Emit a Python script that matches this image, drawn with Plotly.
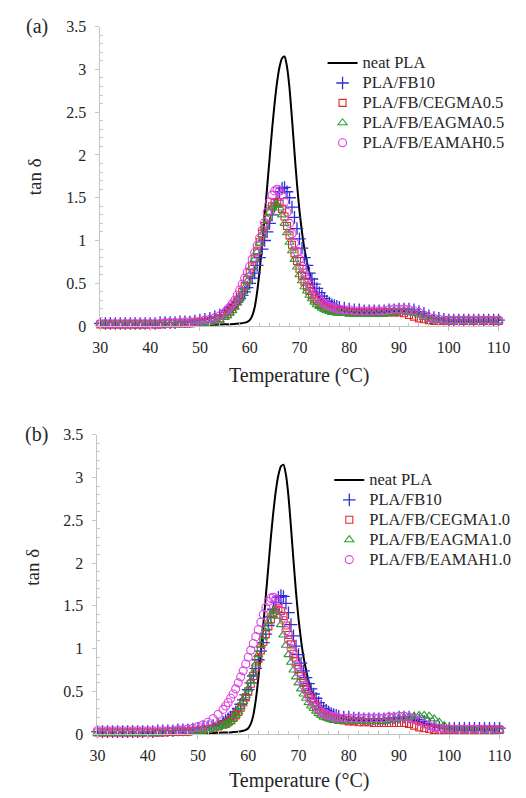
import plotly.graph_objects as go

# ---------------- data ----------------
# temperature grid of the DMA marker series (°C): 1 °C steps on the flanks,
# 0.5 °C steps through the glass-transition peak
temp_low = list(range(30, 56))                       # 30 ... 55
temp_mid = [55.5 + 0.5 * i for i in range(46)]       # 55.5 ... 78
temp_high = list(range(79, 111))                     # 79 ... 110
temp = temp_low + temp_mid + temp_high

# neat PLA, drawn as a continuous line
neat_temp = [30, 35, 40, 45, 50, 53, 55, 56, 57, 58, 59, 59.5, 60, 60.5, 61, 61.5, 62, 62.5,
             63, 63.5, 64, 64.5, 65, 65.5, 66, 66.5, 67, 67.5, 68, 68.5, 69, 69.5, 70, 70.5,
             71, 71.5, 72, 72.5, 73, 74, 75, 76, 77, 78, 79, 80, 82, 85, 88, 90, 92, 94, 96,
             98, 100, 102, 105, 110]
neat_tan = [0.01, 0.01, 0.01, 0.01, 0.01, 0.015, 0.02, 0.02, 0.025, 0.03, 0.04, 0.05, 0.07,
            0.12, 0.22, 0.40, 0.65, 0.95, 1.28, 1.62, 1.96, 2.30, 2.60, 2.85, 3.03, 3.13, 3.15,
            3.03, 2.78, 2.42, 2.03, 1.66, 1.35, 1.10, 0.90, 0.75, 0.62, 0.52, 0.44, 0.34, 0.28,
            0.24, 0.21, 0.19, 0.18, 0.17, 0.16, 0.16, 0.17, 0.18, 0.17, 0.15, 0.11, 0.08, 0.06,
            0.05, 0.05, 0.05]

# ---- panel (a): 0.5 phr compatibilizer ----
fb10_a = (
    [0.03] * 11
    + [0.03, 0.04, 0.04, 0.04, 0.04, 0.05, 0.05, 0.05, 0.06, 0.07]
    + [0.08, 0.09, 0.11, 0.13, 0.16]
    + [0.18, 0.20, 0.22, 0.25, 0.28, 0.32, 0.36, 0.40, 0.45, 0.50,
       0.56, 0.62, 0.71, 0.80, 0.90, 1.00, 1.10, 1.20, 1.30, 1.40,
       1.49, 1.57, 1.61, 1.62, 1.57, 1.50, 1.39, 1.27, 1.14, 1.02,
       0.91, 0.80, 0.71, 0.62, 0.55, 0.49, 0.44, 0.39, 0.35, 0.32,
       0.29, 0.27, 0.25, 0.24, 0.23, 0.22]
    + [0.21, 0.20]
    + [0.19, 0.19, 0.18, 0.18, 0.18, 0.18, 0.18, 0.19, 0.19, 0.20]
    + [0.20, 0.20, 0.19, 0.17, 0.15, 0.12, 0.10, 0.09, 0.08, 0.07]
    + [0.07] * 10
)
cegma_a = (
    [0.02] * 11
    + [0.02, 0.02, 0.03, 0.03, 0.03, 0.03, 0.03, 0.03, 0.04, 0.04]
    + [0.05, 0.06, 0.07, 0.09, 0.12]
    + [0.14, 0.17, 0.20, 0.24, 0.29, 0.34, 0.40, 0.47, 0.54, 0.62,
       0.70, 0.79, 0.88, 0.98, 1.08, 1.17, 1.26, 1.34, 1.40, 1.44,
       1.45, 1.43, 1.37, 1.28, 1.17, 1.06, 0.95, 0.85, 0.76, 0.67,
       0.59, 0.52, 0.46, 0.41, 0.36, 0.32, 0.29, 0.26, 0.24, 0.22,
       0.21, 0.20, 0.19, 0.18, 0.18, 0.17]
    + [0.17, 0.16]
    + [0.16] * 10
    + [0.15, 0.13, 0.11, 0.09, 0.08, 0.07, 0.06, 0.06, 0.06, 0.06]
    + [0.06] * 10
)
eagma_a = (
    [0.02] * 11
    + [0.02, 0.02, 0.02, 0.02, 0.02, 0.02, 0.02, 0.02, 0.02, 0.03]
    + [0.03, 0.04, 0.05, 0.07, 0.10]
    + [0.12, 0.15, 0.18, 0.22, 0.27, 0.32, 0.38, 0.45, 0.52, 0.60,
       0.69, 0.78, 0.87, 0.97, 1.07, 1.17, 1.26, 1.33, 1.39, 1.42,
       1.42, 1.38, 1.30, 1.20, 1.09, 0.98, 0.88, 0.78, 0.69, 0.60,
       0.53, 0.46, 0.41, 0.36, 0.32, 0.28, 0.25, 0.23, 0.21, 0.19,
       0.18, 0.17, 0.16, 0.16, 0.15, 0.15]
    + [0.15, 0.14]
    + [0.14, 0.14, 0.14, 0.14, 0.14, 0.14, 0.14, 0.15, 0.16, 0.17]
    + [0.17, 0.16, 0.15, 0.13, 0.10, 0.08, 0.07, 0.06, 0.06, 0.06]
    + [0.06] * 10
)
eamah_a = (
    [0.03] * 11
    + [0.03, 0.03, 0.04, 0.04, 0.04, 0.04, 0.05, 0.05, 0.05, 0.06]
    + [0.07, 0.08, 0.10, 0.12, 0.16]
    + [0.19, 0.22, 0.26, 0.30, 0.36, 0.42, 0.49, 0.56, 0.63, 0.70,
       0.78, 0.86, 0.94, 1.03, 1.12, 1.21, 1.33, 1.45, 1.53, 1.58,
       1.60, 1.58, 1.53, 1.45, 1.33, 1.20, 1.08, 0.97, 0.87, 0.78,
       0.70, 0.62, 0.55, 0.48, 0.43, 0.38, 0.34, 0.31, 0.28, 0.26,
       0.24, 0.23, 0.22, 0.21, 0.20, 0.20]
    + [0.19, 0.19]
    + [0.18, 0.18, 0.18, 0.18, 0.18, 0.18, 0.18, 0.19, 0.20, 0.20]
    + [0.20, 0.19, 0.18, 0.16, 0.13, 0.10, 0.09, 0.08, 0.07, 0.07]
    + [0.07] * 10
)

# ---- panel (b): 1.0 phr compatibilizer ----
fb10_b = (
    [0.03] * 11
    + [0.03, 0.04, 0.04, 0.04, 0.04, 0.05, 0.05, 0.05, 0.06, 0.07]
    + [0.08, 0.09, 0.10, 0.12, 0.14]
    + [0.16, 0.18, 0.20, 0.23, 0.26, 0.30, 0.35, 0.40, 0.46, 0.52,
       0.60, 0.68, 0.77, 0.87, 0.97, 1.07, 1.17, 1.27, 1.37, 1.46,
       1.54, 1.60, 1.62, 1.61, 1.53, 1.42, 1.28, 1.15, 1.03, 0.93,
       0.83, 0.74, 0.66, 0.59, 0.53, 0.47, 0.42, 0.37, 0.33, 0.30,
       0.28, 0.26, 0.24, 0.23, 0.22, 0.21]
    + [0.20, 0.20]
    + [0.19, 0.19, 0.18, 0.18, 0.18, 0.18, 0.18, 0.19, 0.19, 0.20]
    + [0.20, 0.20, 0.19, 0.17, 0.15, 0.12, 0.10, 0.08, 0.07, 0.07]
    + [0.07] * 10
)
cegma_b = (
    [0.02] * 11
    + [0.02, 0.02, 0.02, 0.03, 0.03, 0.03, 0.03, 0.03, 0.04, 0.04]
    + [0.05, 0.06, 0.07, 0.09, 0.11]
    + [0.12, 0.14, 0.16, 0.19, 0.22, 0.26, 0.31, 0.37, 0.43, 0.50,
       0.59, 0.68, 0.78, 0.88, 0.98, 1.08, 1.17, 1.26, 1.34, 1.40,
       1.45, 1.47, 1.44, 1.38, 1.27, 1.16, 1.05, 0.94, 0.85, 0.76,
       0.68, 0.60, 0.53, 0.47, 0.42, 0.37, 0.33, 0.29, 0.26, 0.24,
       0.22, 0.20, 0.19, 0.18, 0.18, 0.17]
    + [0.16, 0.15]
    + [0.15, 0.14, 0.14, 0.14, 0.13, 0.13, 0.13, 0.13, 0.13, 0.13]
    + [0.13, 0.12, 0.10, 0.08, 0.07, 0.06, 0.05, 0.05, 0.05, 0.05]
    + [0.05] * 10
)
eagma_b = (
    [0.01] * 11
    + [0.01, 0.01, 0.02, 0.02, 0.02, 0.02, 0.02, 0.02, 0.03, 0.03]
    + [0.04, 0.05, 0.06, 0.08, 0.10]
    + [0.11, 0.13, 0.15, 0.18, 0.22, 0.26, 0.32, 0.38, 0.45, 0.53,
       0.62, 0.72, 0.82, 0.93, 1.04, 1.14, 1.24, 1.32, 1.39, 1.44,
       1.44, 1.38, 1.28, 1.16, 1.04, 0.93, 0.84, 0.75, 0.67, 0.60,
       0.53, 0.47, 0.42, 0.37, 0.33, 0.30, 0.27, 0.24, 0.22, 0.20,
       0.19, 0.18, 0.17, 0.16, 0.16, 0.15]
    + [0.15, 0.15]
    + [0.15, 0.15, 0.15, 0.15, 0.15, 0.15, 0.15, 0.16, 0.17, 0.18]
    + [0.19, 0.20, 0.21, 0.22, 0.22, 0.21, 0.18, 0.14, 0.10, 0.07]
    + [0.05, 0.05, 0.05, 0.05, 0.05, 0.04, 0.04, 0.04, 0.04, 0.04]
)
eamah_b = (
    [0.04] * 11
    + [0.04, 0.04, 0.04, 0.04, 0.04, 0.05, 0.05, 0.06, 0.07, 0.09]
    + [0.11, 0.14, 0.18, 0.23, 0.29]
    + [0.33, 0.37, 0.42, 0.47, 0.53, 0.60, 0.67, 0.74, 0.82, 0.90,
       0.98, 1.06, 1.14, 1.22, 1.31, 1.40, 1.48, 1.55, 1.59, 1.60,
       1.58, 1.53, 1.44, 1.33, 1.21, 1.10, 1.00, 0.90, 0.81, 0.72,
       0.64, 0.57, 0.51, 0.45, 0.40, 0.36, 0.32, 0.29, 0.26, 0.24,
       0.23, 0.22, 0.21, 0.20, 0.20, 0.19]
    + [0.19, 0.19]
    + [0.19, 0.19, 0.19, 0.19, 0.19, 0.19, 0.19, 0.20, 0.20, 0.21]
    + [0.21, 0.20, 0.18, 0.15, 0.12, 0.10, 0.08, 0.07, 0.06, 0.06]
    + [0.06] * 10
)

names_a = ["neat PLA", "PLA/FB10", "PLA/FB/CEGMA0.5", "PLA/FB/EAGMA0.5", "PLA/FB/EAMAH0.5"]
names_b = ["neat PLA", "PLA/FB10", "PLA/FB/CEGMA1.0", "PLA/FB/EAGMA1.0", "PLA/FB/EAMAH1.0"]
x_ticks = [30, 40, 50, 60, 70, 80, 90, 100, 110]
y_ticks = [0, 0.5, 1, 1.5, 2, 2.5, 3, 3.5]

# ---------------- styling ----------------
FONT = "Liberation Serif"
TXT = "#262626"
AXC = "#c4c4c4"
W, H = 526, 798

marker_styles = [
    dict(symbol="cross-thin-open", size=9, color="#2f2fd8", line=dict(color="#2f2fd8", width=1.3)),
    dict(symbol="square-open", size=7, color="#e3262a", line=dict(color="#e3262a", width=1.1)),
    dict(symbol="triangle-up-open", size=8, color="#2a9e2a", line=dict(color="#2a9e2a", width=1.1)),
    dict(symbol="circle-open", size=8, color="#e03ee0", line=dict(color="#e03ee0", width=1.1)),
]


def legend_label(text):
    # small legend font keeps rows tight; the visible label is set larger
    return f'<span style="font-size:16.5px">{text}</span>'


fig = go.Figure()


def add_panel(xa, ya, legend, names, series):
    fig.add_trace(go.Scatter(
        x=neat_temp, y=neat_tan, mode="lines", name=legend_label(names[0]),
        line=dict(color="black", width=2, shape="spline", smoothing=0.6),
        xaxis=xa, yaxis=ya, legend=legend, cliponaxis=False))
    for nm, ys, mk in zip(names[1:], series, marker_styles):
        fig.add_trace(go.Scatter(
            x=temp, y=ys, mode="markers", name=legend_label(nm), marker=mk,
            xaxis=xa, yaxis=ya, legend=legend, cliponaxis=False))


add_panel("x", "y", "legend", names_a, [fb10_a, cegma_a, eagma_a, eamah_a])
add_panel("x2", "y2", "legend2", names_b, [fb10_b, cegma_b, eagma_b, eamah_b])


def px_x(p):
    return p / W


def px_y(p):
    return 1 - p / H


def xaxis(domain, anchor):
    return dict(domain=domain, anchor=anchor, range=[30, 110], tickvals=x_ticks,
                showgrid=False, zeroline=False, showline=True, linecolor=AXC, linewidth=1,
                ticks="outside", ticklen=4, tickcolor=AXC, ticklabelstandoff=3,
                minor=dict(tickvals=[t for t in range(30, 111, 2) if t % 10], ticks="inside",
                           ticklen=3, tickcolor=AXC),
                tickfont=dict(family=FONT, size=16, color=TXT))


def yaxis(domain, anchor):
    return dict(domain=domain, anchor=anchor, range=[0, 3.5], tickvals=y_ticks,
                showgrid=False, zeroline=False, showline=True, linecolor=AXC, linewidth=1,
                ticks="outside", ticklen=4, tickcolor=AXC, ticklabelstandoff=6,
                minor=dict(tickvals=[round(i * 0.1, 1) for i in range(36) if i % 5],
                           ticks="inside", ticklen=3, tickcolor=AXC),
                tickfont=dict(family=FONT, size=16, color=TXT))


legend_common = dict(font=dict(family=FONT, size=13, color=TXT), bgcolor="rgba(0,0,0,0)",
                     xanchor="left", yanchor="top", tracegroupgap=0, itemwidth=30,
                     borderwidth=0)

fig.update_layout(
    width=W, height=H, paper_bgcolor="white", plot_bgcolor="white",
    margin=dict(l=0, r=0, t=0, b=0),
    xaxis=xaxis([px_x(96), px_x(510)], "y"),
    yaxis=yaxis([px_y(325), px_y(19)], "x"),
    xaxis2=xaxis([px_x(93), px_x(511)], "y2"),
    yaxis2=yaxis([px_y(742), px_y(436)], "x2"),
    legend=dict(x=px_x(327), y=px_y(41), **legend_common),
    legend2=dict(x=px_x(334), y=px_y(467), **legend_common),
    showlegend=True,
)

annotations = [
    ("(a)", 30, 19, 20, 0),
    ("(b)", 30, 436, 20, 0),
    ("Temperature (°C)", 303, 376, 20, 0),
    ("Temperature (°C)", 302, 789, 20, 0),
    ("tan δ", 27, 172, 19, -90),
    ("tan δ", 26, 572, 19, -90),
]
for text, ax_, ay_, size, ang in annotations:
    fig.add_annotation(text=text, x=px_x(ax_), y=px_y(ay_), xref="paper", yref="paper",
                       showarrow=False, textangle=ang, xanchor="center", yanchor="middle",
                       font=dict(family=FONT, size=size, color=TXT))

fig.write_html("out.html")
